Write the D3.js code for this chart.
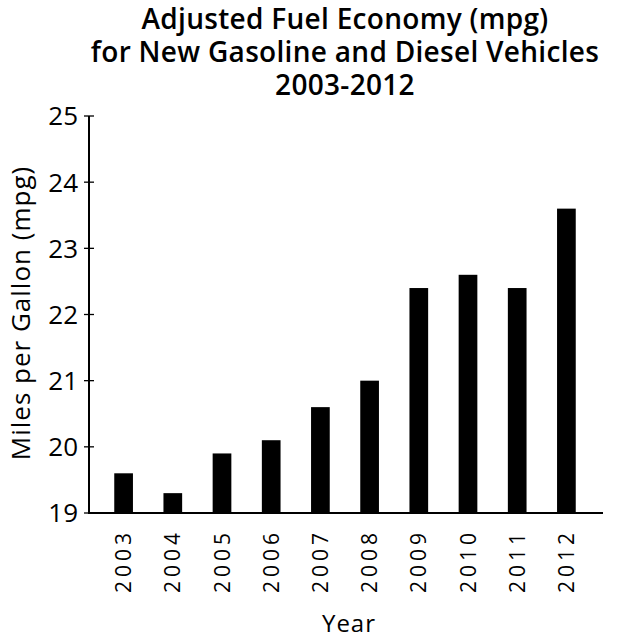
<!DOCTYPE html>
<html lang="en">
<head>
<meta charset="utf-8">
<title>Adjusted Fuel Economy</title>
<style>
  body { margin: 0; background: #fff; }
  svg { display: block; }
  .title { font: 600 28px "Open Sans", sans-serif; letter-spacing: 0.3px; text-anchor: middle; fill: #000; }
  .axis-label { font: 26px "Open Sans", sans-serif; letter-spacing: 1px; fill: #000; }
  .tick-label { font: 26px "Open Sans", sans-serif; fill: #000; }
  .year-label { font: 21px "Open Sans", sans-serif; letter-spacing: 4px; fill: #000; }
</style>
</head>
<body>
<svg id="vis" width="621" height="640"></svg>
<script src="https://d3js.org/d3.v7.min.js"></script>
<script>
  // data
  var years = ["2003", "2004", "2005", "2006", "2007", "2008", "2009", "2010", "2011", "2012"];
  var mpg = [19.6, 19.3, 19.9, 20.1, 20.6, 21.0, 22.4, 22.6, 22.4, 23.6];
  var yTicks = [19, 20, 21, 22, 23, 24, 25];
  var titleLines = ["Adjusted Fuel Economy (mpg)", "for New Gasoline and Diesel Vehicles", "2003-2012"];

  var svg = d3.select("#vis");

  var x = d3.scaleBand()
      .domain(years)
      .range([99, 591])
      .paddingInner(0.62)
      .paddingOuter(0.31);

  var y = d3.scaleLinear()
      .domain([19, 25])
      .range([513, 116]);

  // title
  svg.selectAll(".title")
    .data(titleLines)
    .enter().append("text")
      .attr("class", "title")
      .attr("x", 345)
      .attr("y", function(d, i) { return 29 + i * 33; })
      .text(function(d) { return d; });

  // bars
  svg.selectAll(".bar")
    .data(mpg)
    .enter().append("rect")
      .attr("class", "bar")
      .attr("x", function(d, i) { return x(years[i]); })
      .attr("width", x.bandwidth())
      .attr("y", function(d) { return y(d); })
      .attr("height", function(d) { return y(19) - y(d); })
      .attr("fill", "#000");

  // y axis: ticks cross the line on both sides
  var yAxis = svg.append("g");
  yAxis.append("line")
      .attr("x1", 89).attr("x2", 89)
      .attr("y1", y(25)).attr("y2", y(19))
      .attr("stroke", "#000").attr("stroke-width", 2);
  yAxis.selectAll(".ytick")
    .data(yTicks)
    .enter().append("line")
      .attr("x1", 84).attr("x2", 94)
      .attr("y1", function(d) { return y(d); })
      .attr("y2", function(d) { return y(d); })
      .attr("stroke", "#000").attr("stroke-width", 1.3);
  yAxis.selectAll(".tick-label")
    .data(yTicks)
    .enter().append("text")
      .attr("class", "tick-label")
      .attr("x", 78)
      .attr("y", function(d) { return y(d); })
      .attr("dy", "0.36em")
      .attr("text-anchor", "end")
      .text(function(d) { return d; });

  // baseline
  svg.append("line")
      .attr("x1", 88).attr("x2", 603)
      .attr("y1", y(19)).attr("y2", y(19))
      .attr("stroke", "#000").attr("stroke-width", 2);

  // x labels, rotated
  svg.selectAll(".year-label")
    .data(years)
    .enter().append("text")
      .attr("class", "year-label")
      .attr("transform", function(d) {
        return "translate(" + (x(d) + x.bandwidth() / 2) + ",529) rotate(-90)";
      })
      .attr("dy", "0.36em")
      .attr("text-anchor", "end")
      .text(function(d) { return d; });

  // axis titles
  svg.append("text")
      .attr("class", "axis-label")
      .attr("transform", "translate(30,313) rotate(-90)")
      .attr("text-anchor", "middle")
      .text("Miles per Gallon (mpg)");

  svg.append("text")
      .attr("class", "axis-label")
      .attr("x", 349)
      .attr("y", 632)
      .attr("text-anchor", "middle")
      .style("font-size", "24px")
      .text("Year");
</script>
</body>
</html>
